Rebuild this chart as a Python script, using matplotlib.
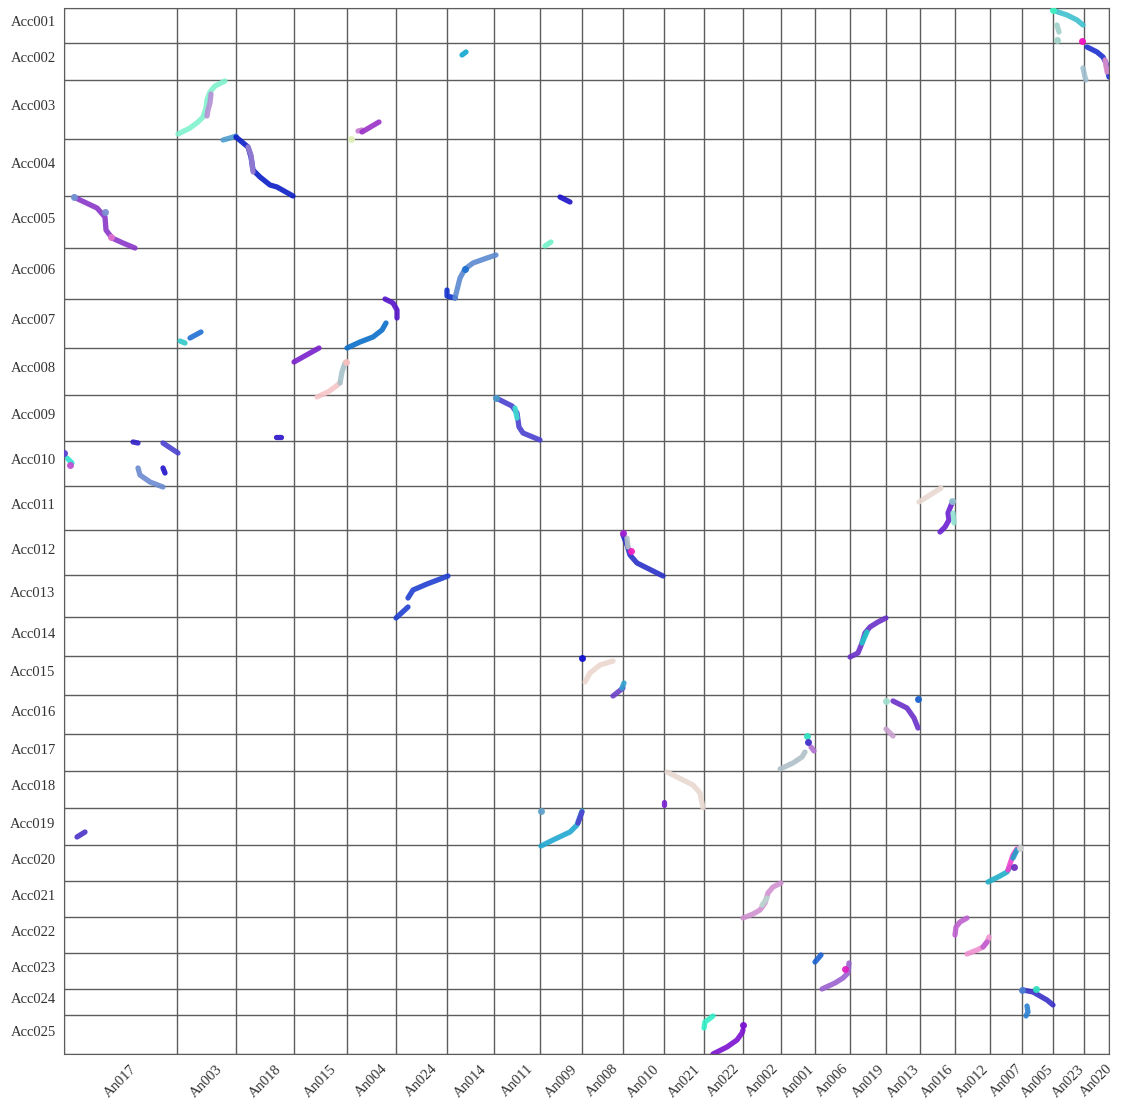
import matplotlib
matplotlib.use("Agg")
from matplotlib import pyplot as plt
from matplotlib import transforms
import numpy as np

# chromosome names and lengths (x = reference, y = query)
x_names = ['An017', 'An003', 'An018', 'An015', 'An004', 'An024', 'An014', 'An011',
           'An009', 'An008', 'An010', 'An021', 'An022', 'An002', 'An001', 'An006',
           'An019', 'An013', 'An016', 'An012', 'An007', 'An005', 'An023', 'An020']
x_len = [113, 59, 58, 53, 49, 51, 47, 46, 42, 41, 41, 40, 39, 38, 34, 35,
         36, 34, 35, 35, 32, 31, 31, 25]

y_names = ['Acc%03d' % i for i in range(1, 26)]
y_len = [35, 37, 59, 57, 52, 51, 49, 47, 46, 45, 44, 45, 42, 39, 39, 39,
         37, 37, 37, 36, 36, 36, 36, 26, 39]

# syntenic blocks: colour, points (x, y) in genome coordinates
lines = [
    ('#7ef2cc', [(114, 126), (126, 120), (134, 114), (139, 109), (142, 100), (143, 92), (146, 84), (151, 78), (161, 73)]),
    ('#b48fd6', [(147, 86), (146, 95), (144, 102), (143, 108)]),
    ('#4f9ed0', [(159, 132), (166, 130), (172, 128)]),
    ('#0b1ec8', [(172, 129), (184, 139), (187, 149), (189, 162), (196, 169), (206, 177), (213, 179), (229, 188)]),
    ('#9b7fd2', [(184, 139), (187, 147), (188, 155), (189, 164)]),
    ('#8a36c9', [(10, 189), (16, 192), (33, 200), (41, 209), (42, 222), (48, 230), (59, 235), (71, 240)]),
    ('#c77ad0', [(294, 123), (298, 122)]),
    ('#9a30c8', [(298, 124), (315, 114)]),
    ('#30c8c8', [(116, 333), (121, 335)]),
    ('#1f6fd2', [(126, 330), (137, 324)]),
    ('#0a6fca', [(283, 340), (296, 334), (309, 329), (318, 322), (322, 315)]),
    ('#5512c8', [(321, 291), (329, 295), (333, 302), (333, 310)]),
    ('#7a1fcc', [(230, 354), (255, 340)]),
    ('#f7c6c8', [(253, 389), (264, 384), (271, 379), (276, 375)]),
    ('#a6c2c8', [(276, 375), (278, 364), (281, 355)]),
    ('#1030d0', [(383, 282), (383, 288), (391, 290)]),
    ('#5a88d0', [(391, 290), (393, 282), (396, 270), (401, 261), (409, 255), (423, 250), (432, 247)]),
    ('#1a10c8', [(496, 189), (506, 194)]),
    ('#70f0c8', [(481, 238), (487, 234)]),
    ('#4a3fd0', [(432, 390), (448, 398), (453, 405), (455, 419), (459, 425), (476, 432)]),
    ('#3ee0d0', [(451, 400), (453, 410)]),
    ('#1f40d0', [(332, 610), (344, 599)]),
    ('#1f40d0', [(344, 590), (349, 582), (363, 576), (384, 568)]),
    ('#2a30c8', [(559, 527), (563, 537), (566, 547), (573, 555), (583, 560), (599, 568)]),
    ('#b5c3c8', [(563, 530), (564, 539)]),
    ('#ecd6ce', [(521, 674), (526, 665), (536, 657), (549, 653)]),
    ('#6a40c8', [(549, 688), (559, 680)]),
    ('#30a0d0', [(558, 680), (560, 675)]),
    ('#e8d8d0', [(855, 494), (877, 480)]),
    ('#6a20d0', [(876, 524), (881, 519), (885, 512), (884, 505), (888, 495)]),
    ('#90e0d0', [(889, 505), (890, 515)]),
    ('#6a30c8', [(786, 649), (794, 645), (798, 635), (801, 625), (806, 619), (814, 614), (822, 610)]),
    ('#20c8c8', [(798, 635), (803, 624)]),
    ('#6a30c8', [(829, 693), (843, 700), (850, 710), (854, 720)]),
    ('#c8a0d0', [(822, 721), (829, 728)]),
    ('#b070d0', [(747, 739), (750, 743)]),
    ('#b0c0c8', [(716, 761), (729, 755), (738, 749), (741, 744)]),
    ('#20a8d0', [(477, 838), (489, 832), (506, 824), (513, 817), (518, 803)]),
    ('#5040d0', [(514, 815), (518, 804)]),
    ('#e8d8d0', [(603, 764), (613, 769), (629, 777), (636, 785), (639, 800)]),
    ('#7a20d0', [(600, 794), (600, 797)]),
    ('#d090d0', [(679, 910), (689, 906), (696, 902), (701, 895), (704, 885), (709, 879), (717, 875)]),
    ('#b8d8d0', [(698, 897), (703, 890)]),
    ('#30f0c8', [(640, 1020), (641, 1014), (649, 1008)]),
    ('#7a10d0', [(649, 1046), (663, 1039), (673, 1032), (678, 1025), (679, 1022)]),
    ('#1a60d0', [(751, 954), (757, 947)]),
    ('#20b0c8', [(924, 874), (936, 868), (943, 864), (946, 859)]),
    ('#f040d0', [(944, 862), (949, 847), (953, 841)]),
    ('#20a0c8', [(949, 850), (953, 842)]),
    ('#c060d0', [(891, 927), (892, 919), (896, 914), (903, 910)]),
    ('#f090d0', [(903, 946), (913, 942), (919, 939), (923, 934), (925, 929)]),
    ('#c060d0', [(919, 939), (923, 934)]),
    ('#9a60d0', [(758, 981), (771, 975), (779, 970), (784, 965), (785, 955)]),
    ('#3a30c8', [(959, 982), (969, 984), (983, 992), (989, 997)]),
    ('#2a80d0', [(963, 998), (964, 1004), (962, 1008)]),
    ('#40c0d0', [(989, 2), (994, 4), (1003, 7), (1013, 12), (1019, 17)]),
    ('#a0d0c8', [(993, 17), (995, 24)]),
    ('#1a30d0', [(1023, 39), (1033, 44), (1039, 49), (1042, 55), (1044, 64), (1045, 69)]),
    ('#e090c8', [(1041, 52), (1043, 64)]),
    ('#a0c0d0', [(1019, 60), (1021, 69), (1022, 72)]),
    ('#30e0d0', [(3, 450), (8, 455)]),
    ('#3020c8', [(69, 434), (74, 435)]),
    ('#4a40d0', [(99, 435), (114, 445)]),
    ('#6a8ad0', [(74, 460), (76, 467), (86, 474), (99, 479)]),
    ('#2010c8', [(99, 460), (101, 465)]),
    ('#2a10c8', [(212, 429), (217, 429)]),
    ('#10a8d0', [(398, 47), (402, 44)]),
    ('#4a30c8', [(13, 829), (21, 824)]),
]

dots = [
    ('#6f96d2', (10, 189)), ('#7a8ed2', (41, 204)), ('#e070d0', (47, 229)),
    ('#dff0b8', (287, 131)), ('#f7c0c0', (282, 354)), ('#1f70d0', (401, 261)),
    ('#4a9cc8', (432, 390)), ('#a020d0', (559, 525)), ('#f020c0', (567, 543)),
    ('#1010d0', (518, 650)), ('#90c0d0', (888, 493)), ('#1a60d0', (854, 691)),
    ('#a0e0d0', (822, 693)), ('#30e0c0', (743, 728)), ('#4030c8', (744, 734)),
    ('#60a0c8', (477, 803)), ('#7a10d0', (679, 1017)), ('#d0d0d0', (956, 840)),
    ('#7030c0', (950, 859)), ('#e020c0', (781, 961)), ('#4a80d0', (958, 982)),
    ('#30e0c0', (972, 981)), ('#40f0c0', (989, 2)), ('#a0d0c8', (993, 32)),
    ('#f010c0', (1018, 33)), ('#5a40d0', (0, 445)), ('#c050d0', (6, 457)),
]

x_edges = np.concatenate([[0], np.cumsum(x_len)])
y_edges = np.concatenate([[0], np.cumsum(y_len)])

fig = plt.figure(figsize=(11.26, 11.06), dpi=100)
ax = fig.add_axes([64 / 1126, 1 - 1054 / 1106, 1045 / 1126, 1046 / 1106])

grid_c = '#5c5c5c'
ax.vlines(x_edges, 0, y_edges[-1], color=grid_c, lw=1.0, zorder=1)
ax.hlines(y_edges, 0, x_edges[-1], color=grid_c, lw=1.0, zorder=1)

for c, pts in lines:
    xs = [p[0] for p in pts]
    ys = [p[1] for p in pts]
    ax.plot(xs, ys, color=c, lw=3.8, solid_capstyle='round', solid_joinstyle='round',
            alpha=0.9, zorder=2)
for c, (x, y) in dots:
    ax.plot(x, y, 'o', color=c, ms=5, mew=0, alpha=0.95, zorder=3)

ax.set_xlim(0, x_edges[-1])
ax.set_ylim(y_edges[-1], 0)
for s in ax.spines.values():
    s.set_color(grid_c)

font = ['Liberation Serif', 'DejaVu Serif']
ax.set_xticks((x_edges[:-1] + x_edges[1:]) / 2)
ax.set_xticklabels(x_names, rotation=45, ha='center', fontsize=10.5, family=font, color='#333333')
ax.set_yticks((y_edges[:-1] + y_edges[1:]) / 2)
ax.set_yticklabels(y_names, fontsize=10.5, family=font, color='#333333')
ax.tick_params(length=0, pad=6)

# labels on the left sit a little above the row centre
shift = transforms.ScaledTranslation(0, 4 / 100, fig.dpi_scale_trans)
for lab in ax.get_yticklabels():
    lab.set_transform(lab.get_transform() + shift)

fig.savefig('out.png', dpi=100)
